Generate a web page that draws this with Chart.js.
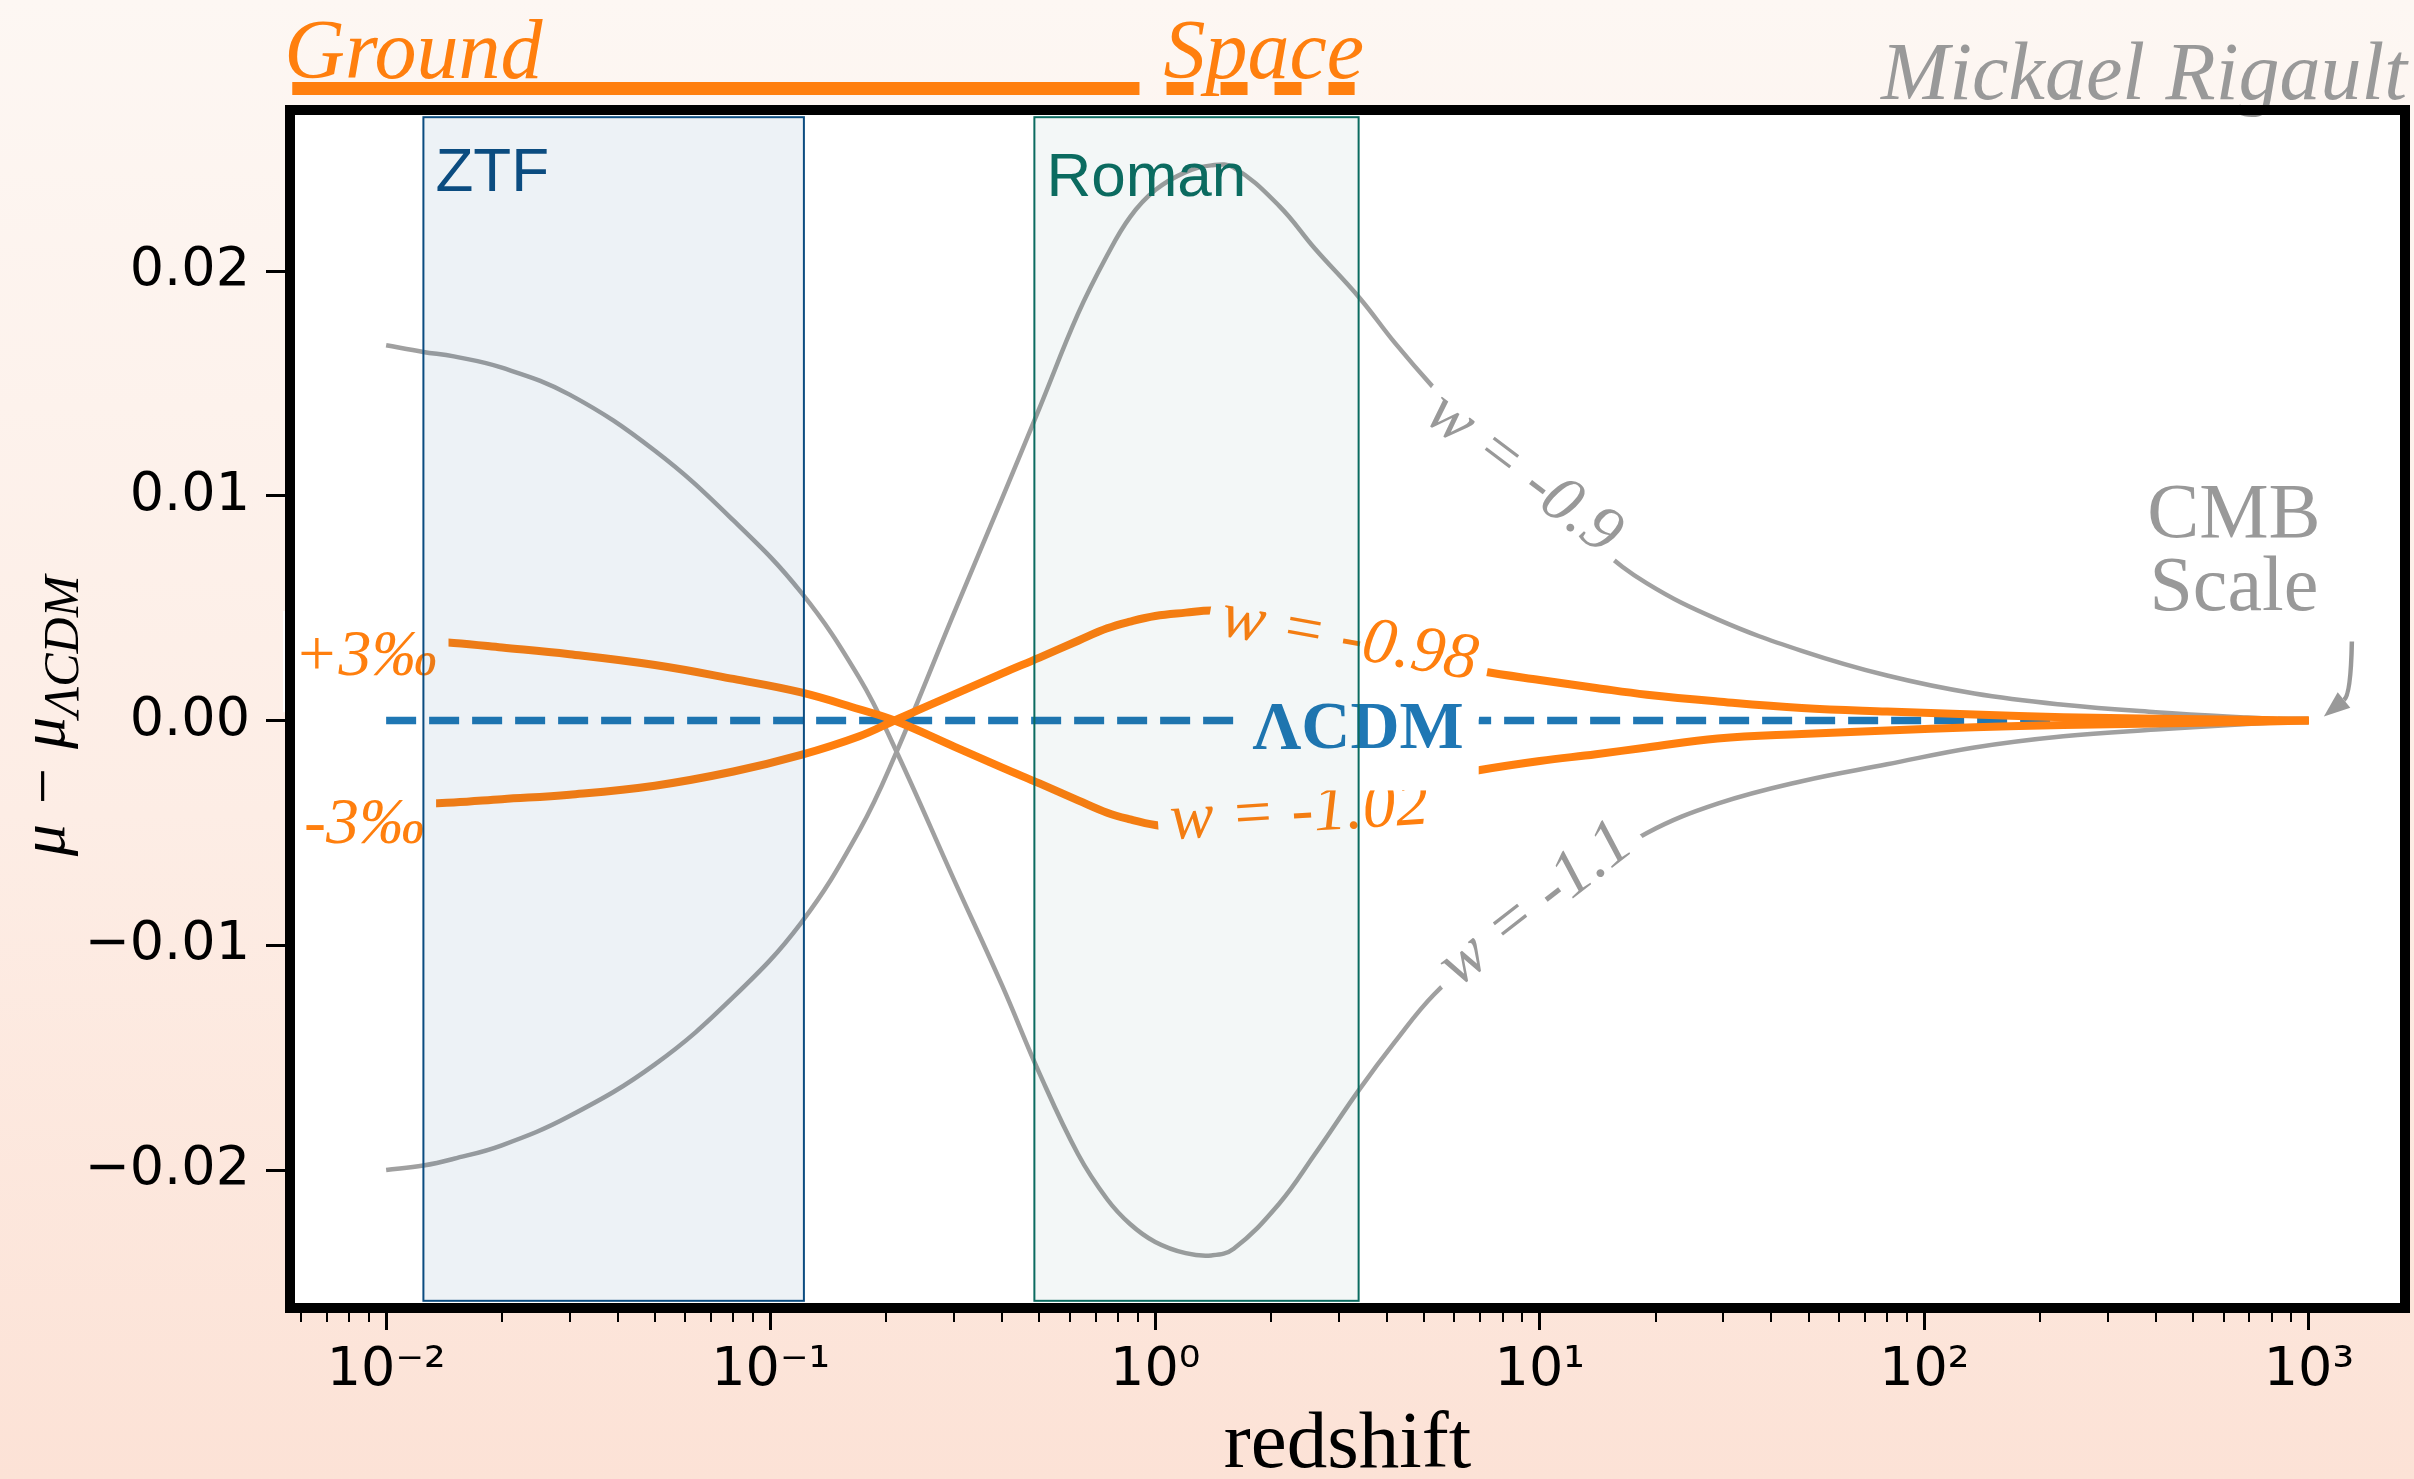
<!DOCTYPE html>
<html>
<head>
<meta charset="utf-8">
<title>Distance modulus residuals vs redshift</title>
<script src="https://cdn.jsdelivr.net/npm/chart.js@4.4.1/dist/chart.umd.min.js"></script>
<style>
   html, body { margin: 0; padding: 0; }
   body {
      width: 2414px;
      height: 1479px;
      overflow: hidden;
      background: linear-gradient(to bottom, #fdf7f3 0%, #fdede5 55%, #fce2d6 100%);
   }
   canvas { display: block; }
</style>
</head>
<body>
<canvas id="residualChart" width="2414" height="1479"></canvas>
<script>
// redshift grid shared by the four w curves
const redshift = [0.01, 0.0125, 0.015, 0.02, 0.03, 0.05, 0.08, 0.12, 0.17, 0.21, 0.3, 0.4, 0.5, 0.63, 0.75, 0.86, 1.0, 1.2, 1.4, 1.6, 2.1, 2.6, 3.4, 4.2, 5.3, 7, 10, 14, 19, 29, 48, 80, 135, 230, 400, 690, 1000];

// mu - mu_LCDM
const wMinus09 = [-0.0200, -0.0198, -0.0195, -0.0189, -0.0176, -0.0153, -0.0123, -0.0090, -0.0049, -0.0016, 0.0048, 0.0099, 0.0139, 0.0181, 0.0207, 0.0224, 0.0236, 0.0244, 0.0247, 0.0246, 0.0229, 0.0210, 0.0188, 0.0168, 0.0148, 0.0126, 0.0101, 0.0078, 0.0061, 0.0045, 0.0031, 0.0020, 0.0012, 0.0007, 0.00037, 0.00013, 0];
const wMinus11 = [0.0167, 0.0164, 0.0162, 0.0157, 0.0145, 0.0120, 0.0089, 0.0057, 0.0019, -0.0012, -0.0071, -0.0118, -0.0157, -0.0193, -0.0213, -0.0224, -0.0232, -0.0237, -0.0238, -0.0235, -0.0215, -0.0193, -0.0164, -0.0143, -0.0122, -0.0104, -0.0083, -0.0065, -0.0050, -0.0037, -0.0027, -0.00195, -0.0012, -0.0007, -0.0004, -0.00016, 0];
const wMinus098 = [-0.0038, -0.0037, -0.00365, -0.0035, -0.0033, -0.0029, -0.00227, -0.00153, -0.0007, 0.0000, 0.00116, 0.0021, 0.0028, 0.00355, 0.0041, 0.0044, 0.00465, 0.0048, 0.0049, 0.0048, 0.0045, 0.0041, 0.0035, 0.0030, 0.0026, 0.0022, 0.0018, 0.00145, 0.00115, 0.00085, 0.00056, 0.0004, 0.00027, 0.00015, 0.00008, 0.00003, 0];
const wMinus102 = [0.0036, 0.00352, 0.00345, 0.00325, 0.00295, 0.00247, 0.00185, 0.00125, 0.0005, 0.0000, -0.00116, -0.0021, -0.0028, -0.00355, -0.0041, -0.0044, -0.00465, -0.0048, -0.0049, -0.0048, -0.0044, -0.0040, -0.0034, -0.0029, -0.0026, -0.0022, -0.0018, -0.0015, -0.0012, -0.0008, -0.0006, -0.00045, -0.0003, -0.0002, -0.00013, -0.00007, 0];

// reference model
const lcdmRedshift = [0.01, 1000];
const lcdm = [0, 0];

// axis ticks
const yTickValues = [-0.02, -0.01, 0, 0.01, 0.02];
const tickExponents = [-3, -2, -1, 0, 1, 2, 3];
const tickSignificands = [1, 2, 3, 4, 5, 6, 7, 8, 9];

// survey redshift windows
const surveyNames = ['ZTF', 'Roman'];
const surveyRanges = [[0.0125, 0.122], [0.485, 3.38]];

// ground / space programmes drawn above the axes
const programmeNames = ['Ground', 'Space'];
const programmeRanges = [[0.0057, 0.91], [1.07, 3.3]];

const ORANGE = '#ff7f0e';
const BLUE = '#1f77b4';
const GREY = '#a0a0a0';
const TEXT_GREY = '#999999';
const SURVEY_COLORS = ['#0b4c80', '#0b6b60'];
const SURVEY_FILLS = ['rgba(11, 76, 128, 0.075)', 'rgba(11, 107, 96, 0.05)'];

// inline labels sitting on the curves (white box hides the line under them)
const curveLabels = [
   { text: 'w = -0.9', z: 9.04, mu: 0.01097, angle: 37, color: TEXT_GREY, font: 'italic 66px "Liberation Serif"', size: 66, pad: 12 },
   { text: 'w = -1.1', z: 9.79, mu: -0.00821, angle: -38, color: TEXT_GREY, font: 'italic 66px "Liberation Serif"', size: 66, pad: 12 },
   { text: 'w = -0.98', z: 3.19, mu: 0.00358, angle: 10, color: ORANGE, font: 'italic 66px "Liberation Serif"', size: 66, pad: 12 },
   { text: 'w = -1.02', z: 2.37, mu: -0.00416, angle: -3.5, color: ORANGE, font: 'italic 66px "Liberation Serif"', size: 66, pad: 12 },
   { text: '+3‰', z: 0.00885, mu: 0.0028, angle: 0, color: ORANGE, font: 'italic 66px "Liberation Serif"', size: 66, pad: 11 },
   { text: '-3‰', z: 0.00879, mu: -0.0047, angle: 0, color: ORANGE, font: 'italic 66px "Liberation Serif"', size: 66, pad: 11 },
   { text: 'ΛCDM', z: 3.37, mu: -0.00045, angle: 0, color: BLUE, font: 'bold 68px "Liberation Serif"', size: 68, pad: 15 },
];

const SUPERSCRIPTS = { '-': '⁻', '0': '⁰', '1': '¹', '2': '²', '3': '³', '4': '⁴', '5': '⁵', '6': '⁶', '7': '⁷', '8': '⁸', '9': '⁹' };

document.addEventListener('DOMContentLoaded', initChart);

function initChart() {
   Chart.defaults.font.family = 'DejaVu Sans';
   const ctx = document.getElementById('residualChart').getContext('2d');

   new Chart(ctx, {
      type: 'line',
      data: {
         datasets: [
            lineDataset('w = -1.02', redshift, wMinus102, ORANGE, 8, 1),
            lineDataset('w = -0.98', redshift, wMinus098, ORANGE, 8, 1),
            Object.assign(lineDataset('ΛCDM', lcdmRedshift, lcdm, BLUE, 7.5, 2), { borderDash: [30, 13], tension: 0 }),
            lineDataset('w = -0.9', redshift, wMinus09, GREY, 4.5, 3),
            lineDataset('w = -1.1', redshift, wMinus11, GREY, 4.5, 3),
         ],
      },
      options: {
         responsive: false,
         animation: false,
         events: [],
         layout: { padding: { top: 110, right: 9, bottom: 0, left: 0 } },
         elements: {
            point: { radius: 0 },
            line: { tension: 0.4, borderCapStyle: 'butt', borderJoinStyle: 'round' },
         },
         plugins: {
            legend: { display: false },
            tooltip: { enabled: false },
         },
         scales: {
            x: {
               type: 'logarithmic',
               bounds: 'data',
               min: Math.pow(10, -2.25),
               max: Math.pow(10, 3.25),
               afterBuildTicks: buildLogTicks,
               afterFit: scale => { scale.height = 171; },
               border: { display: false },
               grid: {
                  drawOnChartArea: false,
                  tickLength: 22,
                  tickWidth: 3,
                  tickColor: c => (c.tick && c.tick.major ? '#000' : 'rgba(0,0,0,0)'),
               },
               ticks: {
                  autoSkip: false,
                  maxRotation: 0,
                  minRotation: 0,
                  padding: 9,
                  color: '#000',
                  font: { family: 'DejaVu Sans', size: 54 },
                  callback: function (value, index, ticks) {
                     if (!ticks[index].major) return '';
                     const exp = String(Math.round(Math.log10(value)));
                     return '10' + exp.split('').map(ch => SUPERSCRIPTS[ch]).join('');
                  },
               },
               title: {
                  display: true,
                  text: 'redshift',
                  color: '#000',
                  font: { family: 'Liberation Serif', size: 81, lineHeight: 0.8 },
                  padding: { top: 0, bottom: 1 },
               },
            },
            y: {
               type: 'linear',
               bounds: 'data',
               min: -0.02614,
               max: 0.027164,
               afterBuildTicks: scale => { scale.ticks = yTickValues.map(v => ({ value: v })); },
               afterFit: scale => { scale.width = 290; },
               border: { display: false },
               grid: {
                  drawOnChartArea: false,
                  tickLength: 24,
                  tickWidth: 3,
                  tickColor: '#000',
               },
               ticks: {
                  padding: 16,
                  color: '#000',
                  font: { family: 'DejaVu Sans', size: 54 },
                  callback: value => value.toFixed(2).replace('-', '\u2212'),
               },
            },
         },
      },
      plugins: [decorations],
   });
}

function lineDataset(label, zs, values, color, width, order) {
   return {
      label: label,
      data: zs.map((z, i) => ({ x: z, y: values[i] })),
      borderColor: color,
      borderWidth: width,
      fill: false,
      order: order,
   };
}

function buildLogTicks(scale) {
   const ticks = [];
   tickExponents.forEach(exp => {
      tickSignificands.forEach(sig => {
         const value = sig * Math.pow(10, exp);
         if (value >= scale.min && value <= scale.max) {
            ticks.push({ value: value, major: sig === 1 });
         }
      });
   });
   scale.ticks = ticks;
}

const decorations = {
   id: 'decorations',
   beforeDraw(chart) {
      const { ctx, chartArea: area } = chart;
      ctx.save();
      ctx.fillStyle = '#ffffff';
      ctx.fillRect(area.left, area.top, area.right - area.left, area.bottom - area.top);
      ctx.restore();
   },
   afterDatasetsDraw(chart) {
      drawCurveLabels(chart);
      drawSurveys(chart);
      drawAuthor(chart);
      drawFrame(chart);
      drawMinorTicks(chart);
      drawProgrammes(chart);
      drawCmbNote(chart);
      drawYTitle(chart);
   },
};

function drawCurveLabels(chart) {
   const { ctx, scales: { x, y } } = chart;
   curveLabels.forEach(label => {
      ctx.save();
      ctx.translate(x.getPixelForValue(label.z), y.getPixelForValue(label.mu));
      ctx.rotate(label.angle * Math.PI / 180);
      ctx.font = label.font;
      const w = ctx.measureText(label.text).width;
      const h = label.size * 1.2;
      ctx.fillStyle = '#ffffff';
      ctx.fillRect(-w / 2 - label.pad, -h / 2 - label.pad + 4, w + 2 * label.pad, h + 2 * label.pad);
      ctx.fillStyle = label.color;
      ctx.textAlign = 'center';
      ctx.textBaseline = 'middle';
      ctx.fillText(label.text, 0, 0);
      ctx.restore();
   });
}

function drawSurveys(chart) {
   const { ctx, chartArea: area, scales: { x } } = chart;
   const height = area.bottom - area.top;
   const top = area.top + height * 0.006;
   const bottom = area.bottom - height * 0.006;
   const baselines = [81, 86];
   ctx.save();
   surveyRanges.forEach((range, i) => {
      const left = x.getPixelForValue(range[0]);
      const right = x.getPixelForValue(range[1]);
      ctx.fillStyle = SURVEY_FILLS[i];
      ctx.fillRect(left, top, right - left, bottom - top);
      ctx.strokeStyle = SURVEY_COLORS[i];
      ctx.lineWidth = 2;
      ctx.strokeRect(left, top, right - left, bottom - top);
      ctx.fillStyle = SURVEY_COLORS[i];
      ctx.font = '62px "Liberation Sans"';
      ctx.textAlign = 'left';
      ctx.textBaseline = 'alphabetic';
      ctx.fillText(surveyNames[i], left + 12, area.top + baselines[i]);
   });
   ctx.restore();
}

function drawAuthor(chart) {
   const { ctx, chartArea: area } = chart;
   ctx.save();
   ctx.fillStyle = TEXT_GREY;
   ctx.font = 'italic 82px "Liberation Serif"';
   ctx.textAlign = 'right';
   ctx.textBaseline = 'alphabetic';
   ctx.fillText('Mickael Rigault', area.right + 2, area.top - 11);
   ctx.restore();
}

function drawFrame(chart) {
   const { ctx, chartArea: area } = chart;
   ctx.save();
   ctx.strokeStyle = '#000';
   ctx.lineWidth = 10;
   ctx.strokeRect(area.left, area.top, area.right - area.left, area.bottom - area.top);
   ctx.restore();
}

function drawMinorTicks(chart) {
   const { ctx, chartArea: area, scales: { x } } = chart;
   ctx.save();
   ctx.strokeStyle = '#000';
   ctx.lineWidth = 2;
   x.ticks.forEach(tick => {
      if (tick.major) return;
      const px = Math.round(x.getPixelForValue(tick.value));
      ctx.beginPath();
      ctx.moveTo(px, area.bottom);
      ctx.lineTo(px, area.bottom + 14);
      ctx.stroke();
   });
   ctx.restore();
}

function drawProgrammes(chart) {
   const { ctx, chartArea: area, scales: { x } } = chart;
   const lineY = area.top - 21.5;
   ctx.save();
   ctx.strokeStyle = ORANGE;
   ctx.fillStyle = ORANGE;
   ctx.lineWidth = 13;
   ctx.lineCap = 'butt';
   ctx.font = 'italic 84px "Liberation Serif"';
   ctx.textAlign = 'left';
   ctx.textBaseline = 'alphabetic';
   programmeRanges.forEach((range, i) => {
      const left = x.getPixelForValue(range[0]);
      const right = x.getPixelForValue(range[1]);
      ctx.setLineDash(i === 0 ? [] : [27, 27]);
      ctx.beginPath();
      ctx.moveTo(left, lineY);
      ctx.lineTo(right, lineY);
      ctx.stroke();
      ctx.fillText(programmeNames[i], left - (i === 0 ? 8 : 3), area.top - 32);
   });
   ctx.restore();
}

function drawCmbNote(chart) {
   const { ctx, scales: { x, y } } = chart;
   const ex = x.getPixelForValue(1000);
   const ey = y.getPixelForValue(0);
   ctx.save();
   ctx.fillStyle = TEXT_GREY;
   ctx.strokeStyle = TEXT_GREY;
   ctx.font = '78px "Liberation Serif"';
   ctx.textAlign = 'center';
   ctx.textBaseline = 'alphabetic';
   ctx.fillText('CMB', ex - 75, ey - 184);
   ctx.fillText('Scale', ex - 75, ey - 111);

   // curved arrow pointing at the pinned end of the curves
   const sx = ex + 43, sy = ey - 79;
   const cx = ex + 42, cy = ey - 26;
   const tx = ex + 15, ty = ey - 4;
   const ang = Math.atan2(ty - cy, tx - cx);
   const headLen = 26, headHalf = 10;
   const bx = tx - headLen * Math.cos(ang);
   const by = ty - headLen * Math.sin(ang);
   ctx.lineWidth = 4.5;
   ctx.beginPath();
   ctx.moveTo(sx, sy);
   ctx.quadraticCurveTo(cx, cy, bx, by);
   ctx.stroke();
   ctx.beginPath();
   ctx.moveTo(tx, ty);
   ctx.lineTo(bx + headHalf * Math.sin(ang), by - headHalf * Math.cos(ang));
   ctx.lineTo(bx - headHalf * Math.sin(ang), by + headHalf * Math.cos(ang));
   ctx.closePath();
   ctx.fill();
   ctx.restore();
}

function drawYTitle(chart) {
   const { ctx, chartArea: area } = chart;
   const main = 'μ − μ';
   const sub = 'ΛCDM';
   const mainFont = 'italic 64px "Liberation Serif"';
   const subFont = 'italic 50px "Liberation Serif"';
   ctx.save();
   ctx.fillStyle = '#000';
   ctx.font = mainFont;
   const mainWidth = ctx.measureText(main).width;
   ctx.font = subFont;
   const subWidth = ctx.measureText(sub).width;
   const start = -(mainWidth + subWidth) / 2;
   ctx.translate(64, (area.top + area.bottom) / 2 + 7);
   ctx.rotate(-Math.PI / 2);
   ctx.textAlign = 'left';
   ctx.textBaseline = 'alphabetic';
   ctx.font = mainFont;
   ctx.fillText(main, start, 0);
   ctx.font = subFont;
   ctx.fillText(sub, start + mainWidth, 14);
   ctx.restore();
}
</script>
</body>
</html>
